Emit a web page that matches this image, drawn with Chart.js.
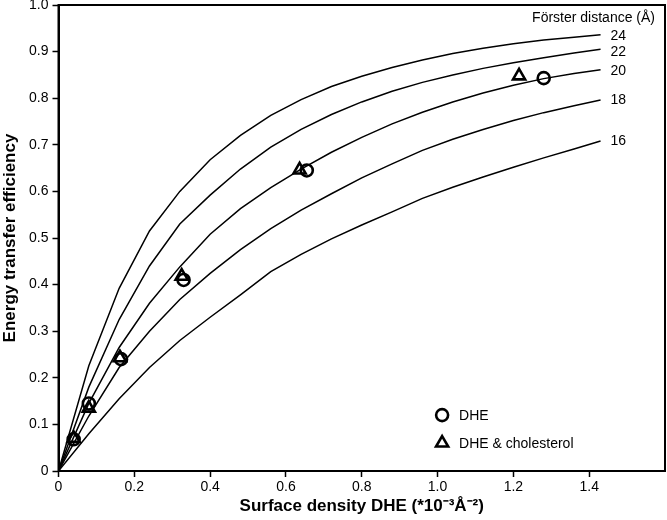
<!DOCTYPE html>
<html lang="en">
  <head>
    <meta charset="UTF-8" />
    <title>Energy transfer efficiency</title>
    <script src="https://cdn.jsdelivr.net/npm/chart.js"></script>
    <style>
      html, body { margin: 0; padding: 0; background: #fff; }
      #wrap { width: 667px; height: 520px; }
    </style>
  </head>
  <body>
    <div id="wrap"><canvas id="chart" width="667" height="520"></canvas></div>
    <script>
      // surface density (x) where the theory curves were sampled
      const curveX = [0, 0.08, 0.16, 0.24, 0.32, 0.40, 0.48, 0.56, 0.64, 0.72,
        0.80, 0.88, 0.96, 1.04, 1.12, 1.20, 1.28, 1.36, 1.43];

      // Förster distances (Å) and their efficiency curves
      const forsterDistances = ["24", "22", "20", "18", "16"];
      const curve24 = [0, 0.226, 0.392, 0.515, 0.600, 0.668, 0.720, 0.763, 0.797, 0.825,
        0.847, 0.866, 0.882, 0.896, 0.907, 0.917, 0.925, 0.931, 0.936];
      const curve22 = [0, 0.180, 0.325, 0.440, 0.530, 0.592, 0.648, 0.695, 0.733, 0.765,
        0.792, 0.815, 0.834, 0.850, 0.864, 0.876, 0.887, 0.897, 0.905];
      const curve20 = [0, 0.145, 0.265, 0.360, 0.438, 0.508, 0.563, 0.608, 0.648, 0.684,
        0.716, 0.745, 0.770, 0.792, 0.811, 0.828, 0.842, 0.853, 0.861];
      const curve18 = [0, 0.118, 0.222, 0.300, 0.368, 0.424, 0.475, 0.520, 0.560, 0.595,
        0.629, 0.659, 0.688, 0.712, 0.733, 0.752, 0.769, 0.784, 0.796];
      const curve16 = [0, 0.080, 0.155, 0.222, 0.280, 0.330, 0.378, 0.428, 0.465, 0.498,
        0.528, 0.556, 0.585, 0.609, 0.631, 0.652, 0.672, 0.691, 0.708];

      // measured points
      const dheX = [0.04, 0.08, 0.165, 0.33, 0.655, 1.28];
      const dheY = [0.068, 0.145, 0.240, 0.410, 0.645, 0.843];
      const cholX = [0.04, 0.08, 0.162, 0.325, 0.636, 1.215];
      const cholY = [0.070, 0.135, 0.243, 0.418, 0.646, 0.848];

      const xTicks = [0, 0.2, 0.4, 0.6, 0.8, 1.0, 1.2, 1.4];
      const yTicks = [0, 0.1, 0.2, 0.3, 0.4, 0.5, 0.6, 0.7, 0.8, 0.9, 1.0];

      const FONT = "'Liberation Sans', Arial, sans-serif";
      const curves = [curve24, curve22, curve20, curve18, curve16];
      const toPts = (xs, ys) => xs.map((x, i) => ({ x: x, y: ys[i] }));

      const datasets = curves.map((ys, i) => ({
        type: "line",
        label: forsterDistances[i],
        data: toPts(curveX, ys),
        borderColor: "#000",
        borderWidth: 1.5,
        pointRadius: 0,
        tension: 0,
        fill: false,
      }));
      datasets.push({
        type: "scatter",
        label: "DHE",
        data: toPts(dheX, dheY),
        pointStyle: "circle",
        pointRadius: 6,
        borderWidth: 2.6,
        borderColor: "#000",
        backgroundColor: "rgba(0,0,0,0)",
      });
      datasets.push({
        type: "scatter",
        label: "DHE & cholesterol",
        data: toPts(cholX, cholY),
        pointStyle: "triangle",
        pointRadius: 7,
        borderWidth: 2.6,
        borderColor: "#000",
        backgroundColor: "rgba(0,0,0,0)",
      });

      // frame, curve labels and the little legend
      const decorations = {
        id: "decorations",
        afterDatasetsDraw(chart) {
          const { ctx, chartArea, scales } = chart;
          const xs = scales.x, ys = scales.y;
          ctx.save();
          ctx.strokeStyle = "#000";
          ctx.lineWidth = 2;
          ctx.strokeRect(chartArea.left, chartArea.top,
            chartArea.right - chartArea.left, chartArea.bottom - chartArea.top);

          ctx.fillStyle = "#000";
          ctx.font = "14px " + FONT;
          ctx.textBaseline = "middle";
          ctx.textAlign = "right";
          ctx.fillText("Förster distance (Å)", chartArea.right - 10, chartArea.top + 13);

          ctx.textAlign = "left";
          const lastX = curveX[curveX.length - 1];
          const nudge = [1, 3, 1, 0, 0];
          curves.forEach((ys2, i) => {
            const px = xs.getPixelForValue(lastX) + 10;
            const py = ys.getPixelForValue(ys2[ys2.length - 1]) + nudge[i];
            ctx.fillText(forsterDistances[i], px, py);
          });

          // legend
          const lx = xs.getPixelForValue(1.012);
          const ly1 = ys.getPixelForValue(0.12);
          const ly2 = ys.getPixelForValue(0.06);
          ctx.lineWidth = 2.6;
          ctx.beginPath();
          ctx.arc(lx, ly1, 6, 0, Math.PI * 2);
          ctx.stroke();
          const r = 7;
          ctx.beginPath();
          ctx.moveTo(lx, ly2 - r);
          ctx.lineTo(lx + r * 0.866, ly2 + r * 0.5);
          ctx.lineTo(lx - r * 0.866, ly2 + r * 0.5);
          ctx.closePath();
          ctx.stroke();
          ctx.fillText("DHE", lx + 17, ly1 + 1);
          ctx.fillText("DHE & cholesterol", lx + 17, ly2 + 1);
          ctx.restore();
        },
      };

      new Chart(document.getElementById("chart"), {
        type: "line",
        data: { datasets: datasets },
        options: {
          responsive: false,
          animation: false,
          layout: { autoPadding: false, padding: { top: 5, right: 2, left: 0, bottom: 0 } },
          plugins: { legend: { display: false }, tooltip: { enabled: false } },
          scales: {
            x: {
              type: "linear",
              min: 0,
              max: 1.6,
              afterBuildTicks: (axis) => { axis.ticks = xTicks.map((v) => ({ value: v })); },
              afterFit: (axis) => { axis.height = 49; axis.paddingLeft = 0; axis.paddingRight = 0; },
              border: { color: "#000", width: 2 },
              grid: { drawOnChartArea: false, drawTicks: true, tickLength: 6, tickColor: "#000", tickWidth: 1.5 },
              ticks: {
                color: "#000",
                font: { family: FONT, size: 14 },
                padding: 2,
                maxRotation: 0,
                callback: (v) => (v === 0 ? "0" : v.toFixed(1)),
              },
              title: {
                display: true,
                text: "Surface density DHE (*10⁻³Å⁻²)",
                color: "#000",
                font: { family: FONT, size: 17, weight: "bold" },
                padding: { top: 0, bottom: 3 },
              },
            },
            y: {
              type: "linear",
              min: 0,
              max: 1.0,
              afterBuildTicks: (axis) => { axis.ticks = yTicks.map((v) => ({ value: v })); },
              afterFit: (axis) => { axis.width = 58.5; axis.paddingTop = 0; axis.paddingBottom = 0; },
              border: { color: "#000", width: 2 },
              grid: { drawOnChartArea: false, drawTicks: true, tickLength: 6, tickColor: "#000", tickWidth: 1.5 },
              ticks: {
                color: "#000",
                font: { family: FONT, size: 14 },
                padding: 4,
                callback: (v) => (v === 0 ? "0" : v.toFixed(1)),
              },
              title: {
                display: true,
                text: "Energy transfer efficiency",
                color: "#000",
                font: { family: FONT, size: 17, weight: "bold" },
                padding: { top: 0, bottom: 2 },
              },
            },
          },
        },
        plugins: [decorations],
      });
    </script>
  </body>
</html>
